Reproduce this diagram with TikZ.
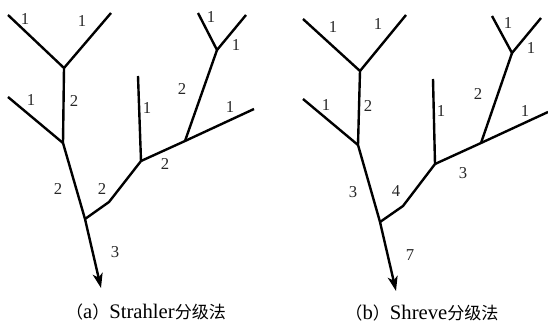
\documentclass[tikz,border=0pt]{standalone}
\usepackage{fontspec}
\setmainfont{Liberation Serif}
\newfontfamily\cjkfont{Noto Sans CJK SC}
\newcommand{\hanzi}[1]{{\cjkfont\fontsize{12.8}{15}\selectfont #1}}
\usetikzlibrary{arrows.meta}
\begin{document}
\begin{tikzpicture}[x=0.75pt,y=-0.75pt,
  stream/.style={line width=1.8pt, black},
  outlet/.style={stream, -{Stealth[length=11pt,width=7.5pt,inset=3pt]}},
  order/.style={font=\fontsize{12.5}{14}\selectfont, text=black!85, inner sep=0pt},
  caption/.style={font=\fontsize{15.5}{18}\selectfont, inner sep=0pt}]
\path[use as bounding box] (0,0) rectangle (548,324);

% ---------- (a) Strahler ordering ----------
\coordinate (aL1) at (8,15);
\coordinate (aL2) at (111,13);
\coordinate (aJ1) at (64,68);
\coordinate (aJ2) at (63,143);
\coordinate (aL3) at (8,97);
\coordinate (aJ3) at (85,219);
\coordinate (aTip) at (101,288);
\coordinate (aB) at (109,202);
\coordinate (aJ4) at (141,161);
\coordinate (aL4) at (138,76);
\coordinate (aJ5) at (185,141);
\coordinate (aL5) at (254,109);
\coordinate (aJ6) at (217,50);
\coordinate (aL6) at (198,13);
\coordinate (aL7) at (246,15);

\draw[stream] (aL1) -- (aJ1) -- (aL2);
\draw[stream] (aJ1) -- (aJ2);
\draw[stream] (aL3) -- (aJ2);
\draw[outlet] (aJ2) -- (aJ3) -- (aTip);
\draw[stream] (aJ3) -- (aB) -- (aJ4);
\draw[stream] (aL4) -- (aJ4);
\draw[stream] (aJ4) -- (aJ5) -- (aL5);
\draw[stream] (aJ5) -- (aJ6);
\draw[stream] (aL6) -- (aJ6) -- (aL7);

\node[order] (sa1) at (25,19) {1};
\node[order] (sa2) at (82,21) {1};
\node[order] (sa3) at (31,100) {1};
\node[order] (sa4) at (74,101) {2};
\node[order] (sa5) at (147,108) {1};
\node[order] (sa6) at (182,89) {2};
\node[order] (sa7) at (211,17) {1};
\node[order] (sa8) at (236,45) {1};
\node[order] (sa9) at (230,107) {1};
\node[order] (sa10) at (165,164) {2};
\node[order] (sa11) at (58,189) {2};
\node[order] (sa12) at (102,189) {2};
\node[order] (sa13) at (115,252) {3};

\node[caption] (capA) at (146,312) {\hanzi{（}a\hanzi{）}Strahler\hanzi{分级法}};

% ---------- (b) Shreve ordering ----------
\coordinate (bL1) at (303,19);
\coordinate (bL2) at (406,15);
\coordinate (bJ1) at (360,71);
\coordinate (bJ2) at (358,145);
\coordinate (bL3) at (303,99);
\coordinate (bJ3) at (380,222);
\coordinate (bTip) at (396,291);
\coordinate (bB) at (403,206);
\coordinate (bJ4) at (435,164);
\coordinate (bL4) at (433,79);
\coordinate (bJ5) at (481,143);
\coordinate (bL5) at (548,112);
\coordinate (bJ6) at (512,53);
\coordinate (bL6) at (492,16);
\coordinate (bL7) at (541,18);

\draw[stream] (bL1) -- (bJ1) -- (bL2);
\draw[stream] (bJ1) -- (bJ2);
\draw[stream] (bL3) -- (bJ2);
\draw[outlet] (bJ2) -- (bJ3) -- (bTip);
\draw[stream] (bJ3) -- (bB) -- (bJ4);
\draw[stream] (bL4) -- (bJ4);
\draw[stream] (bJ4) -- (bJ5) -- (bL5);
\draw[stream] (bJ5) -- (bJ6);
\draw[stream] (bL6) -- (bJ6) -- (bL7);

\node[order] (sb1) at (333,27) {1};
\node[order] (sb2) at (378,24) {1};
\node[order] (sb3) at (326,105) {1};
\node[order] (sb4) at (368,106) {2};
\node[order] (sb5) at (441,111) {1};
\node[order] (sb6) at (478,94) {2};
\node[order] (sb7) at (508,23) {1};
\node[order] (sb8) at (531,48) {1};
\node[order] (sb9) at (525,111) {1};
\node[order] (sb10) at (463,173) {3};
\node[order] (sb11) at (353,192) {3};
\node[order] (sb12) at (396,191) {4};
\node[order] (sb13) at (410,255) {7};

\node[caption] (capB) at (422,313) {\hanzi{（}b\hanzi{）}Shreve\hanzi{分级法}};
\end{tikzpicture}
\end{document}
